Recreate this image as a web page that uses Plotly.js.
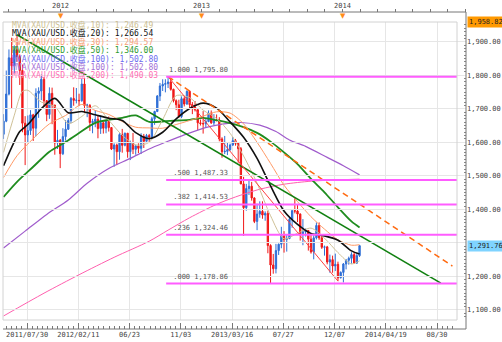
<!DOCTYPE html>
<html><head><meta charset="utf-8">
<script src="https://cdn.plot.ly/plotly-3.0.1.min.js"></script>
<style>html,body{margin:0;padding:0;background:#fff;}#chart{width:502px;height:342px;}</style>
</head><body><div id="chart"></div>
<script>
// ---- data: weekly XAU/USD candles, first week starting 2011-08-01 ----
const firstWeek = '2011-08-01';
const opens = [1624,1663,1744,1852,1828,1876,1856,1814,1657,1622,1635,1682,1642,1746,1753,1788,1724,1683,1746,1711,
1598,1606,1566,1617,1639,1665,1731,1725,1725,1724,1774,1710,1710,1659,1662,1669,1641,1658,1642,1663,
1644,1580,1592,1572,1623,1591,1627,1572,1598,1579,1589,1582,1618,1603,1620,1616,1670,1692,1738,1768,
1773,1775,1780,1758,1724,1712,1677,1730,1714,1752,1712,1705,1697,1658,1656,1655,1662,1687,1658,1667,
1667,1610,1572,1573,1578,1592,1605,1597,1581,1476,1405,1462,1469,1434,1364,1386,1394,1383,1388,1292,
1234,1223,1277,1296,1322,1310,1313,1370,1396,1395,1386,1327,1333,1337,1311,1273,1315,1352,1315,1287,
1288,1243,1250,1231,1236,1196,1212,1237,1248,1254,1265,1240,1262];
const highs = [1684,1814,1877,1912,1889,1921,1862,1832,1678,1680,1696,1685,1761,1764,1802,1795,1726,1764,1763,1712,
1637,1610,1642,1666,1672,1735,1764,1762,1745,1790,1792,1715,1714,1670,1696,1679,1680,1661,1665,1677,
1645,1597,1596,1627,1640,1629,1628,1605,1628,1593,1597,1627,1625,1625,1625,1676,1694,1741,1777,1788,
1788,1795.8,1789,1760,1728,1727,1737,1737,1755,1755,1720,1723,1700,1668,1693,1672,1695,1695,1684,1683,
1675,1615,1619,1600,1596,1616,1610,1600,1586,1497,1476,1488,1482,1436,1417,1424,1424,1394,1396,1296,
1267,1297,1298,1348,1335,1324,1377,1400,1434,1414,1388,1371,1343,1338,1328,1323,1361,1361,1323,1292,
1291,1265,1262,1268,1244,1215,1240,1252,1259,1272,1272,1271,1293];
const lows = [1610,1660,1740,1702,1805,1840,1771,1630,1532,1600,1622,1604,1618,1673,1726,1706,1663,1670,1654,1563,
1580,1523,1562,1605,1637,1657,1709,1716,1708,1721,1688,1675,1634,1627,1645,1612,1625,1626,1627,1632,
1577,1527,1532,1548,1569,1588,1554,1547,1565,1563,1568,1565,1583,1602,1598,1612,1652,1690,1723,1753,
1749,1762,1754,1719,1696,1673,1672,1707,1712,1701,1684,1692,1636,1650,1626,1644,1660,1655,1651,1662,
1603,1554,1565,1562,1575,1589,1590,1539,1475,1321,1396,1443,1426,1359,1338,1375,1372,1366,1269,1178.86,
1208,1209,1264,1284,1271,1274,1311,1345,1388,1362,1307,1293,1319,1277,1268,1251,1310,1309,1282,1262,
1236,1211,1211,1216,1186,1194,1182,1221,1235,1238,1238,1237,1258];
const closes = [1663,1744,1852,1828,1876,1856,1814,1657,1622,1635,1682,1642,1746,1753,1788,1724,1683,1746,1711,1598,
1606,1566,1617,1639,1665,1731,1725,1726,1724,1774,1710,1711,1659,1662,1669,1641,1658,1642,1663,1644,
1580,1592,1572,1623,1591,1627,1572,1598,1579,1589,1582,1618,1603,1620,1616,1670,1692,1738,1768,1773,
1775,1780,1758,1724,1712,1677,1730,1714,1752,1712,1705,1697,1658,1656,1655,1662,1687,1658,1667,1666,
1610,1572,1573,1578,1592,1605,1597,1581,1476,1405,1462,1469,1434,1364,1386,1394,1383,1388,1292,1234,
1223,1277,1296,1322,1310,1313,1370,1396,1395,1386,1327,1333,1337,1311,1273,1315,1352,1315,1287,1288,
1243,1250,1231,1236,1196,1212,1237,1248,1254,1265,1240,1262,1291.76];

// moving averages, sampled (week number from firstWeek -> value)
const ma10Week = [0,4,7,9,14,19,24,29,34,39,44,49,54,59,64,69,74,79,84,89,94,99,104,109,114,119,124,129,132];
const ma10 = [1570,1681,1752,1755,1720,1707,1656,1677,1709,1666,1621,1592,1600,1668,1739,1733,1696,1671,1627,1559,1478,1381,1312,1329,1344,1314,1271,1237,1246.49];
const ma20Week = [0,3,6,9,14,19,24,29,34,39,44,49,54,59,64,69,74,79,84,89,94,99,104,109,114,119,124,129,132];
const ma20 = [1530,1585,1632,1653,1700,1731,1688,1692,1682,1672,1665,1629,1611,1630,1670,1701,1717,1702,1661,1615,1552,1470,1395,1355,1328,1321,1308,1276,1266.54];
const ma30Week = [0,5,11,17,23,29,34,39,44,49,54,59,64,69,74,79,84,89,94,99,104,109,114,119,124,129,132];
const ma30 = [1495,1560,1611,1655,1680,1713,1695,1683,1662,1645,1643,1642,1653,1665,1678,1691,1687,1655,1600,1537,1472,1423,1378,1341,1309,1293,1294.57];
const ma50Week = [0,5,11,17,23,28,34,39,44,49,54,59,64,69,74,79,84,89,94,99,104,109,114,119,124,129,132];
const ma50 = [1437,1482,1527,1572,1601,1628,1658,1667,1673,1680,1661,1662,1665,1667,1673,1666,1657,1645,1628,1602,1570,1535,1491,1451,1406,1364,1346.00];
const ma100Week = [0,8,16,24,31,39,47,54,60,67,76,84,88,95,101,106,112,120,126,132];
const ma100 = [1285,1335,1385,1428,1478,1522,1552,1580,1600,1622,1646,1657,1659,1651,1632,1607,1588,1555,1530,1502.80];
const ma200Week = [0,15,28,41,54,61,69,79,86,95,104,114,124,132];
const ma200 = [1082,1150,1205,1257,1305,1338,1375,1415,1437,1460,1475,1484,1488,1490.03];

// Fibonacci retracement
const fibRatios = ['1.000','.500','.382','.236','.000'];
const fibLevels = [1795.80,1487.33,1414.53,1324.46,1178.86];
const fibStart = '2012-09-26';

// trend lines (date, price)
const greenTrendX = ['2011-09-05','2014-09-09'], greenTrendY = [1920.65,1180];
const orangeTrendX = ['2012-10-01','2014-10-09'], orangeTrendY = [1795.8,1231];
const redTrendX = ['2012-10-01','2013-12-16'], redTrendY = [1795.8,1186];

// axis labels
const xTickDates = ['2011-10-01','2012-02-11','2012-06-23','2012-11-03','2013-03-16','2013-07-27','2013-12-07','2014-04-19','2014-08-30'];
const xTickText = ['2011/07/30','2012/02/11','06/23','11/03','2013/03/16','07/27','12/07','2014/04/19','08/30'];
const yTickVals = [1100,1200,1300,1400,1500,1600,1700,1800,1900];
const yearMarks = ['2011-12-28','2012-12-28','2013-12-28'];
const yearText = ['2012','2013','2014'];
const axisTop = 1958.82, axisBottom = 1070;

const legendText = ['MVA(XAU/USD.收盘,10): ','MVA(XAU/USD.收盘,20): ','MVA(XAU/USD.收盘,30): ','MVA(XAU/USD.收盘,50): ','MVA(XAU/USD.收盘,100): ','MVA(XAU/USD.收盘,100): ','MVA(XAU/USD.收盘,200): '];
const legendValue = [1246.49,1266.54,1294.57,1346.00,1502.80,1502.80,1490.03];
const legendColor = ['#cdbf93','#111111','#f7a075','#2e9a2e','#6b6bf0','#a56fd6','#ff6fb4'];

// ---- helpers ----
const DAY = 86400000;
const t0 = Date.parse(firstWeek + 'T00:00:00Z');
const weekDate = k => new Date(t0 + k*7*DAY).toISOString().slice(0,10);
const fmt = v => v.toLocaleString('en-US',{minimumFractionDigits:2,maximumFractionDigits:2});
const lastClose = closes[closes.length-1];

// layout geometry (pixels)
const W = 502, Hh = 342, L = 3, R = 466, T = 12, B = 329;
const plotW = R - L, plotH = B - T;
const px = x => (x - L)/plotW, py = y => (B - y)/plotH;
const xDom = [0, px(457)], yDom = [py(320), py(22)];
const xRange = ['2011-07-30 13:26','2014-10-20 21:36'];
const x2Range = ['2011-07-30 13:26','2014-11-13 06:14'];
const mono = 'DejaVu Sans Mono, Noto Sans CJK SC, monospace';

// the last-price box replaces the nearby regular label
const yTickText = yTickVals.map(v => Math.abs(v - lastClose) < 25 ? '' : fmt(v));

const dates = closes.map((_,k)=>weekDate(k));
const traces = [];
// dummy trace so the top axis is drawn (first, so it sits beneath)
traces.push({type:'scatter',mode:'markers',x:[x2Range[0]],y:[null],xaxis:'x2',yaxis:'y',hoverinfo:'skip',showlegend:false});
traces.push({type:'candlestick', x:dates, open:opens, high:highs, low:lows, close:closes,
  increasing:{line:{color:'#2f6fd6',width:1},fillcolor:'#2f6fd6'},
  decreasing:{line:{color:'#f01818',width:1},fillcolor:'#f01818'},
  whiskerwidth:0, hoverinfo:'skip', showlegend:false});
function maTrace(wk, vals, color, width){
  return {type:'scatter', mode:'lines', x:wk.map(weekDate), y:vals,
    line:{color:color,width:width,shape:'spline',smoothing:0.8}, hoverinfo:'skip', showlegend:false};
}
traces.push(maTrace(ma200Week, ma200, '#ff5fae', 1));
traces.push(maTrace(ma100Week, ma100, '#a05ccc', 1.2));
traces.push(maTrace(ma50Week, ma50, '#1f8c1f', 1.8));
traces.push(maTrace(ma30Week, ma30, '#ff9a66', 1));
traces.push(maTrace(ma10Week, ma10, '#cfc197', 1));
traces.push(maTrace(ma20Week, ma20, '#111111', 1.6));
traces.push({type:'scatter',mode:'lines',x:greenTrendX,y:greenTrendY,line:{color:'#118011',width:1.6},hoverinfo:'skip',showlegend:false});
traces.push({type:'scatter',mode:'lines',x:orangeTrendX,y:orangeTrendY,line:{color:'#ff6a10',width:1.5,dash:'6px,4px'},hoverinfo:'skip',showlegend:false});
traces.push({type:'scatter',mode:'lines',x:redTrendX,y:redTrendY,line:{color:'#ff4040',width:1},hoverinfo:'skip',showlegend:false});

const shapes = [];
fibLevels.forEach(v=>{
  shapes.push({type:'line',xref:'x',yref:'y',x0:fibStart,x1:xRange[1],y0:v,y1:v,line:{color:'#ff5cff',width:2},layer:'above'});
});
shapes.push({type:'rect',xref:'paper',yref:'paper',x0:xDom[0],x1:xDom[1],y0:yDom[0],y1:yDom[1],line:{color:'#d2d2d2',width:1}});
shapes.push({type:'line',xref:'paper',yref:'paper',x0:0,x1:1,y0:1,y1:1,line:{color:'#777',width:1}});
shapes.push({type:'line',xref:'paper',yref:'paper',x0:0,x1:1,y0:0,y1:0,line:{color:'#777',width:1}});
shapes.push({type:'line',xref:'paper',yref:'paper',x0:1,x1:1,y0:0,y1:1,line:{color:'#777',width:1}});

const annotations = [];
fibRatios.forEach((r,i)=>{
  annotations.push({xref:'x',yref:'y',x:fibStart,y:fibLevels[i],xanchor:'left',yanchor:'bottom',yshift:1,xshift:1,
    text:r.padStart(5,'\u00a0')+' '+fmt(fibLevels[i]),showarrow:false,font:{family:mono,size:7,color:'#555'}});
});
legendText.forEach((t,i)=>{
  annotations.push({xref:'paper',yref:'paper',x:px(10),y:py(25+i*8.4),xanchor:'left',yanchor:'middle',
    text:t+fmt(legendValue[i]),showarrow:false,font:{family:mono,size:8,color:legendColor[i]}});
});
yearMarks.forEach((d,i)=>{
  annotations.push({xref:'x',yref:'paper',x:d,y:py(6),xanchor:'center',yanchor:'middle',text:yearText[i],showarrow:false,font:{family:mono,size:7,color:'#444'}});
  annotations.push({xref:'x',yref:'paper',x:d,y:py(16),xanchor:'center',yanchor:'middle',text:'▼',showarrow:false,font:{family:'DejaVu Sans',size:7,color:'#ff8c1a'}});
});
annotations.push({xref:'paper',yref:'y',x:1,y:axisTop,xanchor:'left',yanchor:'middle',xshift:1,text:fmt(axisTop),showarrow:false,
  bgcolor:'#ff9900',borderpad:1,font:{family:mono,size:7,color:'#222'}});
annotations.push({xref:'paper',yref:'y',x:1,y:lastClose,xanchor:'left',yanchor:'middle',xshift:1,text:fmt(lastClose),showarrow:false,
  bgcolor:'#7fd3ff',borderpad:1,font:{family:mono,size:7,color:'#222'}});

const layout = {
  width:W, height:Hh, margin:{l:L,r:W-R,t:T,b:Hh-B,pad:0},
  paper_bgcolor:'#fff', plot_bgcolor:'rgba(0,0,0,0)', showlegend:false, hovermode:false,
  xaxis:{type:'date', domain:xDom, range:xRange, anchor:'free', position:0,
    rangeslider:{visible:false}, tickmode:'array', tickvals:xTickDates, ticktext:xTickText,
    ticks:'inside', ticklen:6, tickcolor:'#777', showline:false, showgrid:true, gridcolor:'#e6e6e6', zeroline:false,
    tickfont:{family:mono,size:7,color:'#444'},
    minor:{tickmode:'linear', tick0:'2011-10-01', dtick:13.3*DAY, ticks:'inside', ticklen:3, tickcolor:'#777', showgrid:false}},
  xaxis2:{type:'date', domain:[0,1], range:x2Range, anchor:'free', position:1, side:'top',
    tickmode:'linear', tick0:'2011-12-28', dtick:45.65625*DAY, ticks:'outside', ticklen:3, tickcolor:'#777',
    showticklabels:false, showgrid:false, showline:false, zeroline:false},
  yaxis:{domain:yDom, range:[axisBottom,axisTop], anchor:'free', position:1, side:'right',
    tickmode:'array', tickvals:yTickVals, ticktext:yTickText, ticks:'inside', ticklen:6, tickcolor:'#777',
    showline:false, showgrid:true, gridcolor:'#e6e6e6', zeroline:false,
    tickfont:{family:mono,size:7,color:'#444'},
    minor:{tickmode:'linear', tick0:1100, dtick:10, ticks:'inside', ticklen:2.5, tickcolor:'#888', showgrid:false}},
  shapes:shapes, annotations:annotations
};
Plotly.newPlot('chart', traces, layout, {staticPlot:true, displayModeBar:false});
</script></body></html>
